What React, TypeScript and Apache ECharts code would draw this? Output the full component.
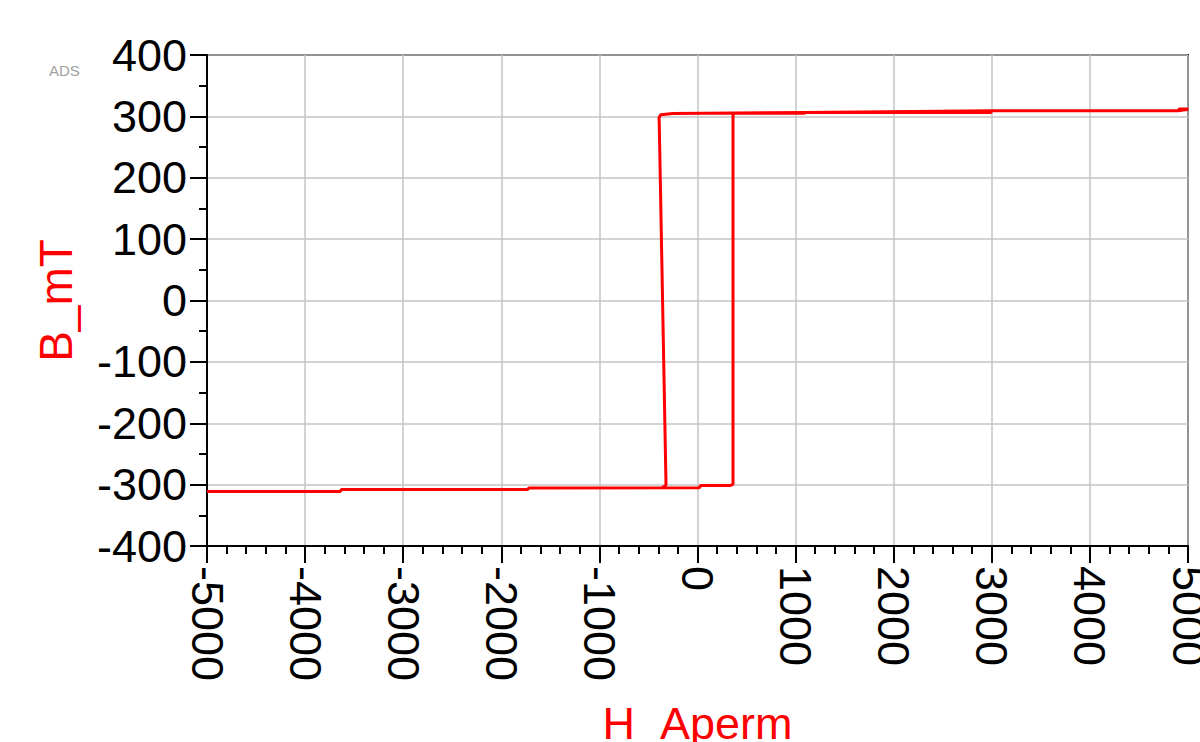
import React, { useEffect, useRef } from "react";
import * as echarts from "echarts";

// Hysteresis loop: H (A/m) and B (mT), traced in order
const hValues = [
  -5000, -3640, -3630, -1730, -1720, 20, 30, 330, 360, 362, 362, 375, 1090, 1100, 2990, 3000, 4900, 4910, 4990, 5000,
  4990, 4900, 3000, 1100, -250, -300, -375, -392, -390, -321, -330, -360, -1720, -1730, -3630, -3640, -5000,
];
const bValues = [
  -311, -311, -308, -308, -305.5, -305, -301.5, -301.5, -300, -297, 302, 305, 305, 306.5, 306.5, 309, 309, 312, 312, 311,
  311, 309, 309, 306.5, 304.5, 304, 302.5, 298, 290, -300, -302, -305, -305.5, -308, -308, -311, -311,
];

const xTicks = { min: -5000, max: 5000, interval: 1000 };
const yTicks = { min: -400, max: 400, interval: 100 };

export default function App() {
  const ref = useRef<HTMLDivElement>(null);
  useEffect(() => {
    if (!ref.current) return;
    const chart = echarts.init(ref.current, null, { renderer: "svg" });
    const data = hValues.map((h, i) => [h, bValues[i]]);
    const font = "'Liberation Sans', Arial, sans-serif";
    const plain = (v: number) => String(v);
    chart.setOption({
      animation: false,
      backgroundColor: "#ffffff",
      grid: {
        left: 207,
        right: 12,
        top: 55,
        bottom: 196,
        containLabel: false,
        outerBoundsMode: "none",
        show: true,
        borderColor: "#000",
        borderWidth: 2,
        backgroundColor: "transparent",
      },
      graphic: [
        {
          type: "text",
          left: 49,
          top: 63,
          style: { text: "ADS", fill: "#a0a0a0", font: "15px 'Liberation Sans', Arial, sans-serif" },
        },
      ],
      xAxis: {
        type: "value",
        min: xTicks.min,
        max: xTicks.max,
        interval: xTicks.interval,
        name: "H_Aperm",
        nameLocation: "middle",
        nameGap: 155,
        nameTextStyle: { color: "#ff0000", fontSize: 45, fontFamily: font },
        axisLine: { show: true, onZero: false, lineStyle: { color: "#000", width: 2 } },
        axisTick: { show: true, inside: false, length: 17, lineStyle: { color: "#000", width: 2 } },
        minorTick: { show: true, splitNumber: 5, length: 8, lineStyle: { color: "#000", width: 2 } },
        axisLabel: { rotate: -90, fontSize: 45, color: "#000", fontFamily: font, margin: 20, formatter: plain },
        splitLine: { show: true, lineStyle: { color: "#c4c4c4", width: 1.5 } },
      },
      yAxis: {
        type: "value",
        min: yTicks.min,
        max: yTicks.max,
        interval: yTicks.interval,
        name: "B_mT",
        nameLocation: "middle",
        nameGap: 128,
        nameRotate: 90,
        nameTextStyle: { color: "#ff0000", fontSize: 46, fontFamily: font },
        axisLine: { show: true, onZero: false, lineStyle: { color: "#000", width: 2 } },
        axisTick: { show: true, inside: false, length: 17, lineStyle: { color: "#000", width: 2 } },
        minorTick: { show: true, splitNumber: 2, length: 8, lineStyle: { color: "#000", width: 2 } },
        axisLabel: { fontSize: 45, color: "#000", fontFamily: font, margin: 20, formatter: plain },
        splitLine: { show: true, lineStyle: { color: "#c4c4c4", width: 1.5 } },
      },
      series: [
        {
          type: "line",
          data,
          showSymbol: false,
          symbol: "none",
          lineStyle: { color: "#ff0000", width: 3 },
          clip: true,
        },
      ],
    });
    return () => chart.dispose();
  }, []);
  return (
    <div
      ref={ref}
      style={{ position: "fixed", left: 0, top: 0, width: 1200, height: 742 }}
    />
  );
}
